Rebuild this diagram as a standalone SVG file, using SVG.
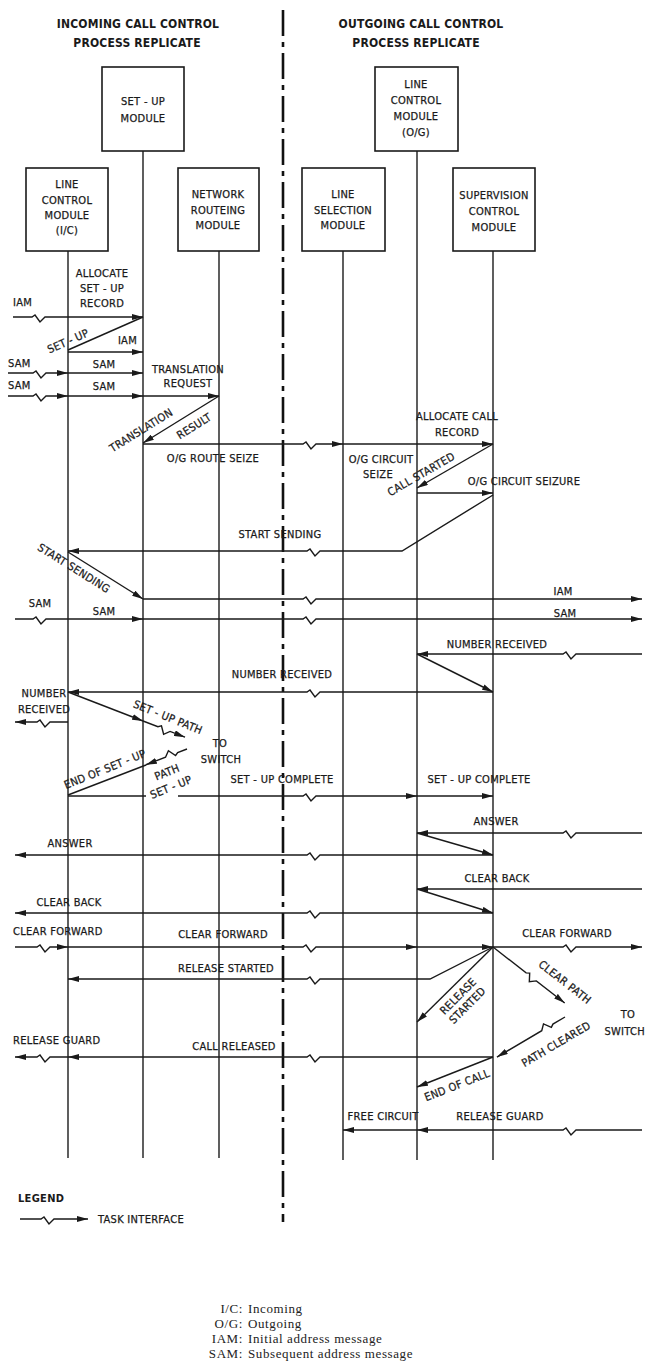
<svg xmlns="http://www.w3.org/2000/svg" width="646" height="1363" viewBox="0 0 646 1363">
<style>
.t{font-family:"Liberation Sans Narrow","DejaVu Sans Condensed","Liberation Sans",sans-serif;font-size:11px;fill:#1a1a1a;stroke:#1a1a1a;stroke-width:0.25;letter-spacing:0.3px}
.m{text-anchor:middle}
.e{text-anchor:end}
.h{font-size:12px;font-weight:bold;letter-spacing:0.2px;stroke-width:0}
.b{font-weight:bold;stroke-width:0}
.box{fill:#fff;stroke:#1a1a1a;stroke-width:1.6}
.life{stroke:#1a1a1a;stroke-width:1.4;fill:none}
.c path{stroke:#1a1a1a;stroke-width:1.4;fill:none}
.a{marker-end:url(#ah)}
.div{stroke:#111;stroke-width:2.6;stroke-dasharray:26 6 5 6;fill:none}
.fn{font-family:"Liberation Serif",serif;font-size:13px;fill:#222;letter-spacing:0.6px}
</style>
<defs>
<marker id="ah" viewBox="0 0 11 6" refX="11" refY="3" markerWidth="11" markerHeight="6" orient="auto" markerUnits="userSpaceOnUse"><path d="M0,0 L11,3 L0,6 z" fill="#1a1a1a"/></marker>
</defs>
<rect width="646" height="1363" fill="#fff"/>

<g id="titles">
<text class="t h m" x="138" y="28">INCOMING CALL CONTROL</text>
<text class="t h m" x="137" y="47">PROCESS REPLICATE</text>
<text class="t h m" x="421" y="28">OUTGOING CALL CONTROL</text>
<text class="t h m" x="416" y="47">PROCESS REPLICATE</text>
</g>

<line id="divider" class="div" x1="283" y1="10" x2="283" y2="1222"/>

<g id="setup-module">
<rect class="box" x="102" y="67" width="82" height="84"/>
<text class="t m" x="143" y="105">SET - UP</text>
<text class="t m" x="143" y="122">MODULE</text>
<line class="life" x1="143" y1="151" x2="143" y2="1158"/>
</g>
<g id="line-control-ic">
<rect class="box" x="26" y="168" width="82" height="83"/>
<text class="t m" x="67" y="188">LINE</text>
<text class="t m" x="67" y="204">CONTROL</text>
<text class="t m" x="67" y="219">MODULE</text>
<text class="t m" x="67" y="234">(I/C)</text>
<line class="life" x1="68" y1="251" x2="68" y2="1158"/>
</g>
<g id="network-routeing">
<rect class="box" x="178" y="168" width="81" height="83"/>
<text class="t m" x="218" y="198">NETWORK</text>
<text class="t m" x="218" y="214">ROUTEING</text>
<text class="t m" x="218" y="229">MODULE</text>
<line class="life" x1="219" y1="251" x2="219" y2="1158"/>
</g>
<g id="line-selection">
<rect class="box" x="302" y="168" width="83" height="83"/>
<text class="t m" x="343" y="198">LINE</text>
<text class="t m" x="343" y="214">SELECTION</text>
<text class="t m" x="343" y="229">MODULE</text>
<line class="life" x1="343" y1="251" x2="343" y2="1160"/>
</g>
<g id="line-control-og">
<rect class="box" x="375" y="67" width="83" height="84"/>
<text class="t m" x="416" y="88">LINE</text>
<text class="t m" x="416" y="104">CONTROL</text>
<text class="t m" x="416" y="120">MODULE</text>
<text class="t m" x="416" y="136">(O/G)</text>
<line class="life" x1="417" y1="151" x2="417" y2="1160"/>
</g>
<g id="supervision-control">
<rect class="box" x="453" y="168" width="82" height="83"/>
<text class="t m" x="494" y="199">SUPERVISION</text>
<text class="t m" x="494" y="215">CONTROL</text>
<text class="t m" x="494" y="231">MODULE</text>
<line class="life" x1="493" y1="251" x2="493" y2="1160"/>
</g>

<g id="connectors" class="c">
<path class="a" d="M13,317 H32 l3,-2 l5,7 l5,-5 H143"/>
<path d="M143,317 L68,350"/>
<path class="a" d="M68,352 H143"/>
<path class="a" d="M8,373 H33 l3,-2 l5,7 l5,-5 H68"/>
<path class="a" d="M68,373 H143"/>
<path class="a" d="M8,396 H33 l3,-2 l5,7 l5,-5 H68"/>
<path class="a" d="M68,396 H143"/>
<path class="a" d="M143,396 H219"/>
<path class="a" d="M219,396 L143,443"/>
<path class="a" d="M143,444 H303 l3,-2 l5,7 l5,-5 H343"/>
<path class="a" d="M343,444 H493"/>
<path class="a" d="M493,444 L417,488"/>
<path class="a" d="M417,493 H493"/>
<path class="a" d="M493,495 L402,551 H320 l-5,5 l-5,-7 l-3,2 H68"/>
<path class="a" d="M68,552 L143,599"/>
<path class="a" d="M143,599 H303 l3,-2 l5,7 l5,-5 H642"/>
<path class="a" d="M15,619 H33 l3,-2 l5,7 l5,-5 H143"/>
<path class="a" d="M143,619 H303 l3,-2 l5,7 l5,-5 H642"/>
<path class="a" d="M642,654 H576 l-5,5 l-5,-7 l-3,2 H417"/>
<path class="a" d="M417,654 L493,692"/>
<path class="a" d="M493,692 H320 l-5,5 l-5,-7 l-3,2 H68"/>
<path class="a" d="M68,722 H50 l-5,5 l-5,-7 l-3,2 H15"/>
<path class="a" d="M68,692 L143,721"/>
<path class="a" transform="translate(143,721) rotate(21)" d="M0,0 H16 l3,-2 l5,7 l5,-5 H45"/>
<path class="a" transform="translate(187,749) rotate(159)" d="M0,0 H10 l3,-2 l5,7 l5,-5 H44"/>
<path d="M146,765 L68,795"/>
<path d="M68,796 H146"/>
<path class="a" d="M178,796 H303 l3,-2 l5,7 l5,-5 H417"/>
<path class="a" d="M417,796 H493"/>
<path class="a" d="M642,833 H576 l-5,5 l-5,-7 l-3,2 H417"/>
<path class="a" d="M417,833 L493,855"/>
<path class="a" d="M493,855 H320 l-5,5 l-5,-7 l-3,2 H15"/>
<path class="a" d="M642,889 H417"/>
<path class="a" d="M417,889 L493,913"/>
<path class="a" d="M493,913 H320 l-5,5 l-5,-7 l-3,2 H15"/>
<path class="a" d="M15,947 H37 l3,-2 l5,7 l5,-5 H68"/>
<path class="a" d="M68,947 H303 l3,-2 l5,7 l5,-5 H417"/>
<path class="a" d="M417,947 H493"/>
<path class="a" d="M493,947 H563 l3,-2 l5,7 l5,-5 H642"/>
<path class="a" d="M493,947 L430,979 H320 l-5,5 l-5,-7 l-3,2 H68"/>
<path class="a" d="M493,947 L417,1022"/>
<path class="a" transform="translate(493,947) rotate(38)" d="M0,0 H42 l3,-2 l5,7 l5,-5 H91"/>
<path class="a" transform="translate(565,1017) rotate(149.5)" d="M0,0 H14 l3,-2 l5,7 l5,-5 H79"/>
<path class="a" d="M493,1057 H320 l-5,5 l-5,-7 l-3,2 H68"/>
<path class="a" d="M68,1057 H50 l-5,5 l-5,-7 l-3,2 H15"/>
<path class="a" d="M493,1057 L417,1087"/>
<path class="a" d="M417,1130 H343"/>
<path class="a" d="M642,1130 H576 l-5,5 l-5,-7 l-3,2 H417"/>
</g>

<g id="labels">
<text class="t m" x="102" y="277">ALLOCATE</text>
<text class="t m" x="102" y="292">SET - UP</text>
<text class="t m" x="102" y="307">RECORD</text>
<text class="t" x="13" y="306">IAM</text>
<text class="t m" transform="translate(68,341) rotate(-24)" y="4">SET - UP</text>
<text class="t e" x="137" y="344">IAM</text>
<text class="t" x="8" y="367">SAM</text>
<text class="t m" x="104" y="368">SAM</text>
<text class="t" x="8" y="389">SAM</text>
<text class="t m" x="104" y="390">SAM</text>
<text class="t m" x="188" y="373">TRANSLATION</text>
<text class="t m" x="188" y="387">REQUEST</text>
<text class="t m" transform="translate(141,430) rotate(-32)" y="4">TRANSLATION</text>
<text class="t m" transform="translate(194,426) rotate(-32)" y="4">RESULT</text>
<text class="t m" x="213" y="462">O/G ROUTE SEIZE</text>
<text class="t m" x="457" y="420">ALLOCATE CALL</text>
<text class="t m" x="457" y="436">RECORD</text>
<text class="t m" x="381" y="463">O/G CIRCUIT</text>
<text class="t m" x="378" y="478">SEIZE</text>
<text class="t m" transform="translate(421,474) rotate(-30)" y="4">CALL STARTED</text>
<text class="t m" x="524" y="485">O/G CIRCUIT SEIZURE</text>
<text class="t m" x="280" y="538">START SENDING</text>
<text class="t m" transform="translate(74,568) rotate(32)" y="4">START SENDING</text>
<text class="t m" x="563" y="595">IAM</text>
<text class="t m" x="40" y="607">SAM</text>
<text class="t m" x="104" y="615">SAM</text>
<text class="t m" x="565" y="617">SAM</text>
<text class="t m" x="497" y="648">NUMBER RECEIVED</text>
<text class="t m" x="282" y="678">NUMBER RECEIVED</text>
<text class="t m" x="44" y="697">NUMBER</text>
<text class="t m" x="44" y="713">RECEIVED</text>
<text class="t m" transform="translate(168,717) rotate(22)" y="4">SET - UP PATH</text>
<text class="t m" x="220" y="747">TO</text>
<text class="t m" x="221" y="763">SWITCH</text>
<text class="t m" transform="translate(105,769) rotate(-22)" y="4">END OF SET - UP</text>
<text class="t m" transform="translate(167,772) rotate(-22)" y="4">PATH</text>
<text class="t m" transform="translate(171,787) rotate(-22)" y="4">SET - UP</text>
<text class="t m" x="282" y="783">SET - UP COMPLETE</text>
<text class="t m" x="479" y="783">SET - UP COMPLETE</text>
<text class="t m" x="496" y="825">ANSWER</text>
<text class="t m" x="70" y="847">ANSWER</text>
<text class="t m" x="497" y="882">CLEAR BACK</text>
<text class="t m" x="69" y="906">CLEAR BACK</text>
<text class="t" x="13" y="935">CLEAR FORWARD</text>
<text class="t m" x="223" y="938">CLEAR FORWARD</text>
<text class="t m" x="567" y="937">CLEAR FORWARD</text>
<text class="t m" x="226" y="972">RELEASE STARTED</text>
<g transform="translate(463,1001) rotate(-45)">
<text class="t m" y="-3">RELEASE</text>
<text class="t m" y="10">STARTED</text>
</g>
<text class="t m" transform="translate(565,982) rotate(38)" y="4">CLEAR PATH</text>
<text class="t m" x="628" y="1018">TO</text>
<text class="t e" x="645" y="1035">SWITCH</text>
<text class="t m" transform="translate(556,1044) rotate(-30.5)" y="4">PATH CLEARED</text>
<text class="t" x="13" y="1044">RELEASE GUARD</text>
<text class="t m" x="234" y="1050">CALL RELEASED</text>
<text class="t m" transform="translate(457,1085) rotate(-21.5)" y="4">END OF CALL</text>
<text class="t m" x="383" y="1120">FREE CIRCUIT</text>
<text class="t m" x="500" y="1120">RELEASE GUARD</text>
</g>

<g id="legend">
<text class="t b" x="18" y="1202">LEGEND</text>
<path class="a" d="M20,1219 H41 l3,-2 l5,7 l5,-5 H88" stroke="#1a1a1a" stroke-width="1.4" fill="none"/>
<text class="t" x="98" y="1223">TASK INTERFACE</text>
</g>

<g id="footnotes">
<text class="fn e" x="243" y="1313">I/C:</text><text class="fn" x="248" y="1313">Incoming</text>
<text class="fn e" x="243" y="1328">O/G:</text><text class="fn" x="248" y="1328">Outgoing</text>
<text class="fn e" x="243" y="1343">IAM:</text><text class="fn" x="248" y="1343">Initial address message</text>
<text class="fn e" x="243" y="1358">SAM:</text><text class="fn" x="248" y="1358">Subsequent address message</text>
</g>
</svg>
